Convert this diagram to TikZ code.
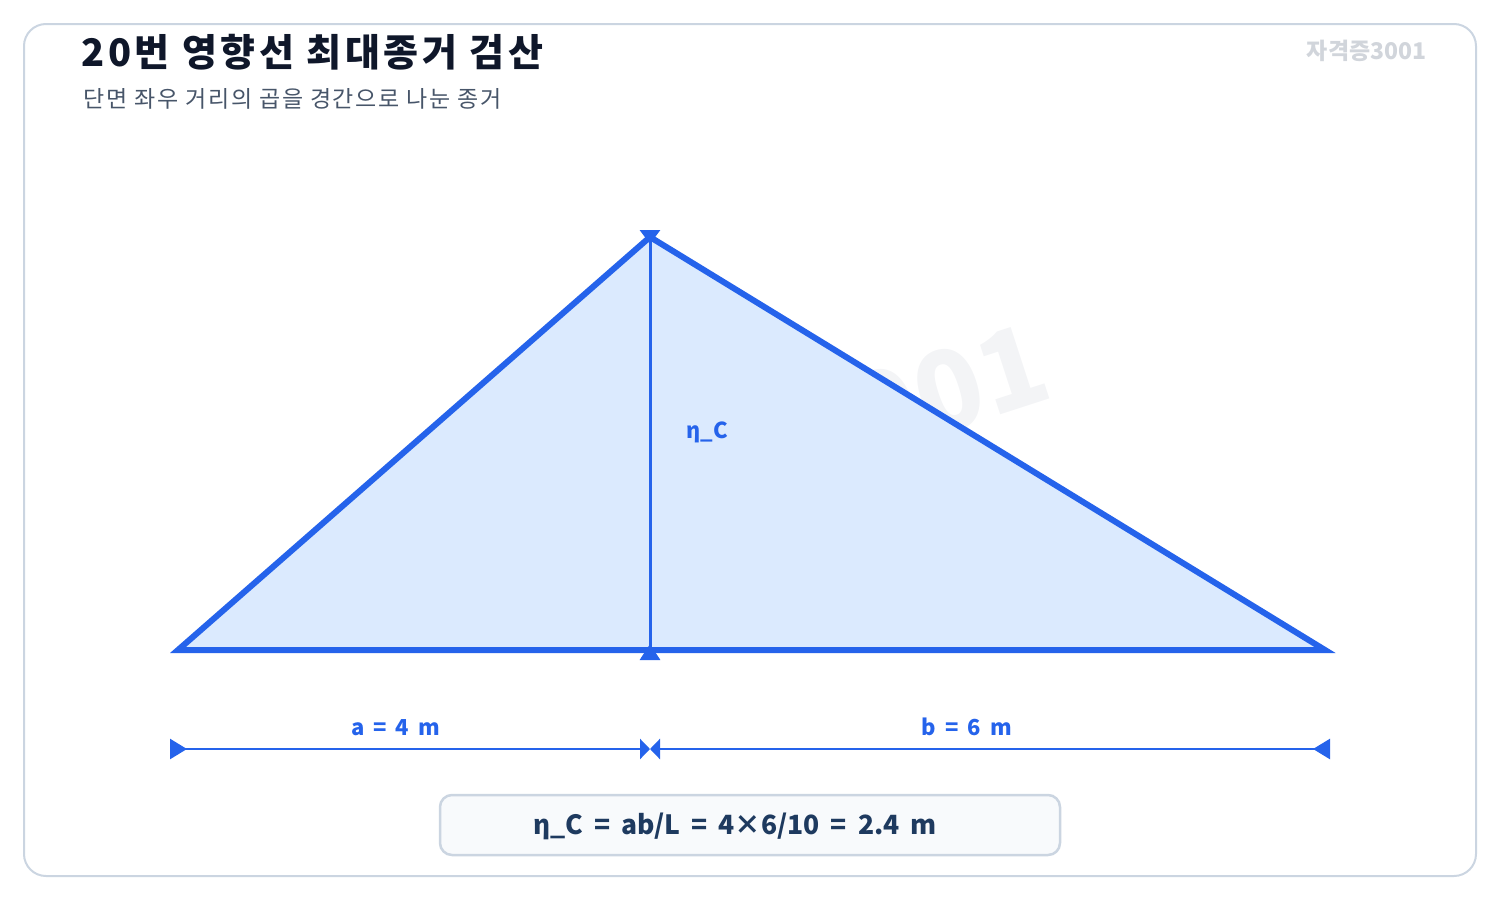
\documentclass[tikz,border=0pt]{standalone}
\usepackage{fontspec}
\setmainfont{Noto Sans CJK KR}
\newfontfamily\widefont[WordSpace=1.8]{Noto Sans CJK KR}
\usetikzlibrary{arrows.meta}
\definecolor{lineblue}{HTML}{2563EB}
\definecolor{fillblue}{HTML}{DBEAFE}
\definecolor{frame}{HTML}{CBD5E1}
\definecolor{titleink}{HTML}{0F172A}
\definecolor{subink}{HTML}{475569}
\definecolor{markgray}{HTML}{D1D5DB}
\definecolor{wmgray}{HTML}{F3F4F6}
\definecolor{boxfill}{HTML}{F8FAFC}
\definecolor{formulaink}{HTML}{1E3A5F}
\tikzset{
  dimline/.style={lineblue, line width=2.5pt,
    {Triangle[reversed,width=20pt,length=17pt]}-{Triangle[width=20pt,length=10pt]}},
  dimlabel/.style={lineblue, font=\widefont\fontsize{22}{26}\selectfont\bfseries},
}
\begin{document}
\begin{tikzpicture}[x=1pt,y=-1pt]
\useasboundingbox (0,0) rectangle (1500,900);
\draw[frame, line width=2pt, rounded corners=22pt] (24,24) rectangle (1476,876);

\node[wmgray, rotate=18, font=\fontsize{110}{110}\selectfont\bfseries] (wm) at (772,446) {자격증3001};

\node[anchor=west, titleink, font=\fontsize{38}{44}\selectfont\bfseries\addfontfeatures{LetterSpace=9.5}] (title) at (78,52) {20번 영향선 최대종거 검산};
\node[anchor=west, subink, font=\fontsize{23}{26}\selectfont\addfontfeatures{LetterSpace=7.5}] (sub) at (80,99) {단면 좌우 거리의 곱을 경간으로 나눈 종거};
\node[anchor=east, markgray, font=\fontsize{23}{26}\selectfont\bfseries] (tag) at (1430,51) {자격증3001};

\coordinate (A) at (178,650);
\coordinate (C) at (650,237);
\coordinate (B) at (1325,650);
\coordinate (F) at (650,650);

\draw[lineblue, fill=fillblue, line width=6pt, miter limit=20] (A) -- (C) -- (B) -- cycle;
\draw[lineblue, line width=3pt, shorten <=-10pt, shorten >=-7pt,
  {Triangle[reversed,width=20pt,length=16pt]}-{Triangle[reversed,width=20pt,length=14pt]}] (F) to (C);
\node[anchor=west, lineblue, font=\fontsize{22}{26}\selectfont\bfseries] (eta) at (683,432) {η\_C};

\coordinate (dl) at (170,749);
\coordinate (dm) at (650,749);
\coordinate (dr) at (1330,749);
\draw[dimline] (dl) to node[pos=0.47, above=9pt, dimlabel]{a = 4 m} (dm);
\draw[dimline] (dr) to node[pos=0.534, above=9pt, dimlabel]{b = 6 m} (dm);

\node[draw=frame, fill=boxfill, line width=2.5pt, rounded corners=12pt,
  minimum width=620pt, minimum height=60pt] (resultbox) at (750,825) {};
\node[text=formulaink, font=\widefont\fontsize{26.5}{32}\selectfont\bfseries] (result) at (735,826) {η\_C = ab/L = 4×6/10 = 2.4 m};
\end{tikzpicture}
\end{document}
